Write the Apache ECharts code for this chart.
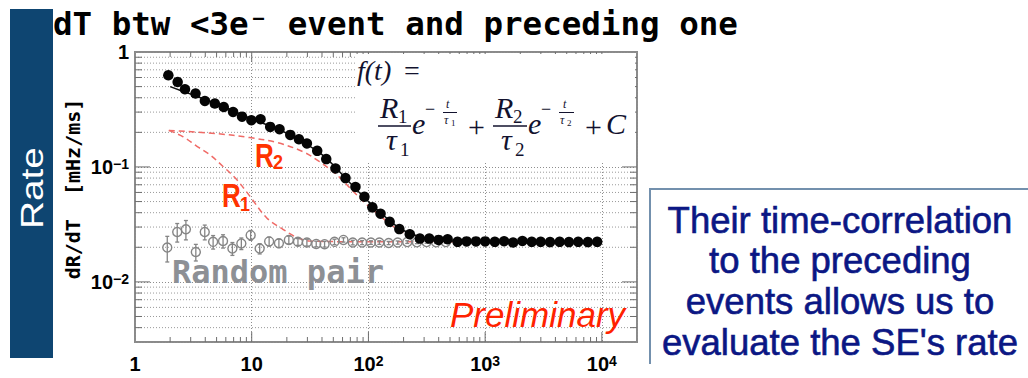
<!DOCTYPE html>
<html>
<head>
<meta charset="utf-8">
<title>dT btw &lt;3e⁻ event and preceding one</title>
<script src="https://cdn.jsdelivr.net/npm/echarts@6/dist/echarts.min.js"></script>
<style>
html, body { margin: 0; padding: 0; background: #ffffff; }
#chart { width: 1028px; height: 378px; }
</style>
</head>
<body>
<div id="chart"></div>
<script>
// ---- data --------------------------------------------------------------
// Time to the preceding event [ms] and rate of <3e- events [mHz/ms]
const dtEvents = [1.93, 2.32, 2.68, 3.30, 3.97, 4.83, 5.76, 6.92, 8.26, 9.93,
  11.9, 14.4, 17.3, 21.4, 25.4, 29.7, 36.4, 43.5, 52.2, 63.6,
  77.4, 92.4, 108, 127, 152, 184, 226, 276, 332, 399,
  477, 580, 693, 834, 1000, 1210, 1453, 1735, 2085, 2506,
  2992, 3597, 4350, 5224, 6272, 7590, 9120];
const rateEvents = [0.627, 0.548, 0.474, 0.435, 0.375, 0.356, 0.332, 0.301, 0.274, 0.255,
  0.260, 0.223, 0.213, 0.190, 0.174, 0.160, 0.138, 0.117, 0.097, 0.080,
  0.067, 0.055, 0.0445, 0.0392, 0.0333, 0.0288, 0.0260, 0.0238, 0.0238, 0.0232,
  0.0235, 0.0223, 0.0225, 0.0225, 0.0225, 0.0223, 0.0226, 0.0220, 0.0227, 0.0223,
  0.0223, 0.0222, 0.0223, 0.0222, 0.0223, 0.0222, 0.0223];

// Random pairs (uncorrelated reference sample) with their errors
const dtRandom = [1.89, 2.30, 2.73, 3.32, 3.96, 4.67, 5.68, 6.83, 8.15, 9.79,
  11.7, 14.1, 17.1, 20.8, 24.9, 29.7, 35.7, 42.1, 51.2, 61.1,
  73.4, 88.3, 105, 124, 149, 178, 215, 260, 315, 380, 460];
const rateRandom = [0.0199, 0.0272, 0.0287, 0.0182, 0.0272, 0.0223, 0.0227, 0.0195, 0.0216, 0.0255,
  0.0195, 0.0225, 0.0217, 0.0232, 0.0223, 0.0220, 0.0214, 0.0213, 0.0223, 0.0232,
  0.0220, 0.0220, 0.0220, 0.0220, 0.0218, 0.0220, 0.0222, 0.0221, 0.0222, 0.0221, 0.0222];
const errRandom = [0.0050, 0.0050, 0.0055, 0.0030, 0.0040, 0.0030, 0.0030, 0.0025, 0.0025, 0.0025,
  0.0020, 0.0020, 0.0018, 0.0018, 0.0015, 0.0015, 0.0012, 0.0012, 0.0012, 0.0010,
  0.0010, 0.0009, 0.0008, 0.0008, 0.0007, 0.0007, 0.0006, 0.0006, 0.0005, 0.0005, 0.0005];

// Fitted f(t) and its two exponential components (each on top of C)
const fitT = [2.0, 3.0, 5.0, 10, 20, 40, 70, 100, 150, 200, 300, 500, 1000, 9000];
const fitRate = [0.50, 0.43, 0.355, 0.262, 0.196, 0.128, 0.072, 0.050, 0.0345, 0.0280, 0.0242, 0.0228, 0.0224, 0.0224];
const r1T = [1.95, 2.59, 3.37, 4.37, 5.62, 7.4, 9.6, 13.4, 18.5, 24.1, 31.3, 60, 200, 1000, 9000];
const r1Rate = [0.208, 0.183, 0.152, 0.128, 0.102, 0.078, 0.056, 0.0362, 0.0287, 0.0245, 0.0227, 0.0224, 0.0224, 0.0224, 0.0224];
const r2T = [1.95, 5.0, 9.6, 16.5, 27.4, 38.1, 53, 73.5, 95.7, 116, 150, 184, 226, 276, 400, 1000, 9000];
const r2Rate = [0.208, 0.195, 0.180, 0.163, 0.136, 0.111, 0.0863, 0.0618, 0.0474, 0.0402, 0.0325, 0.0280, 0.0256, 0.0240, 0.0228, 0.0224, 0.0224];

// Axis decades and their labels
const xDecades = [1, 10, 100, 1000, 10000];
const xTickLabels = ['{b|1}', '{b|10}', '{b|10}{s|2}', '{b|10}{s|3}', '{b|10}{s|4}'];
const yDecades = [0.01, 0.1, 1];
const yTickLabels = ['{b|10}{s|−2}', '{b|10}{s|−1}', '{b|1}'];
const X_MIN = 1, X_MAX = 20000, Y_MIN = 0.003, Y_MAX = 1;

// ---- helpers -------------------------------------------------------------
const zip = (a, b) => a.map((v, i) => [v, b[i]]);

function minorValues(lo, hi) {
  const out = [];
  for (let e = Math.floor(Math.log10(lo)); e <= Math.ceil(Math.log10(hi)); e++) {
    for (let m = 2; m <= 9; m++) {
      const v = m * Math.pow(10, e);
      if (v > lo * 1.0001 && v < hi * 0.9999) out.push(v);
    }
  }
  return out;
}

function decadeLabel(decades, labels) {
  return function (v) {
    for (let i = 0; i < decades.length; i++) {
      if (Math.abs(Math.log10(v) - Math.log10(decades[i])) < 1e-6) return labels[i];
    }
    return '';
  };
}

// kind 0: minor y (dotted line + short ticks), 1: major y ticks,
// kind 2: minor x ticks, 3: major x ticks
const guideData = [];
minorValues(Y_MIN, Y_MAX).forEach(v => guideData.push([X_MIN, v, 0]));
yDecades.filter(v => v > Y_MIN && v < Y_MAX).forEach(v => guideData.push([X_MIN, v, 1]));
minorValues(X_MIN, X_MAX).forEach(v => guideData.push([v, Y_MIN, 2]));
xDecades.filter(v => v > X_MIN && v < X_MAX).forEach(v => guideData.push([v, Y_MIN, 3]));

function renderGuides(params, api) {
  const kind = api.value(2);
  const lo = api.coord([X_MIN, Y_MIN]);
  const hi = api.coord([X_MAX, Y_MAX]);
  const left = lo[0], bottom = lo[1], right = hi[0], top = hi[1];
  const tick = { stroke: '#6e6e6e', lineWidth: 1 };
  const children = [];
  if (kind <= 1) {
    const py = api.coord([X_MIN, api.value(1)])[1];
    const len = kind === 1 ? 15 : 7;
    if (kind === 0) {
      children.push({ type: 'line', shape: { x1: left, y1: py, x2: right, y2: py },
        style: { stroke: '#9a9a9a', lineWidth: 1, lineDash: [1, 2] } });
    }
    children.push({ type: 'line', shape: { x1: left, y1: py, x2: left + len, y2: py }, style: tick });
    children.push({ type: 'line', shape: { x1: right - len, y1: py, x2: right, y2: py }, style: tick });
  } else {
    const px = api.coord([api.value(0), Y_MIN])[0];
    const len = kind === 3 ? 10 : 5;
    children.push({ type: 'line', shape: { x1: px, y1: bottom, x2: px, y2: bottom - len }, style: tick });
    children.push({ type: 'line', shape: { x1: px, y1: top, x2: px, y2: top + len }, style: tick });
  }
  return { type: 'group', children };
}

function renderErrors(params, api) {
  const x = api.value(0);
  const p1 = api.coord([x, api.value(1)]);
  const p2 = api.coord([x, api.value(2)]);
  const st = { stroke: '#858585', lineWidth: 1.3 };
  return { type: 'group', children: [
    { type: 'line', shape: { x1: p1[0], y1: p1[1], x2: p2[0], y2: p2[1] }, style: st },
    { type: 'line', shape: { x1: p1[0] - 2, y1: p1[1], x2: p1[0] + 2, y2: p1[1] }, style: st },
    { type: 'line', shape: { x1: p2[0] - 2, y1: p2[1], x2: p2[0] + 2, y2: p2[1] }, style: st }
  ] };
}

const SANS = '"Liberation Sans", Arial, sans-serif';
const SERIF = '"Liberation Serif", "Times New Roman", serif';
const MONO = '"DejaVu Sans Mono", monospace';

// text placed by its baseline
function txt(text, x, baseline, size, style, extra) {
  return Object.assign({
    type: 'text', x: x, y: baseline - 0.345 * size, z: 60,
    style: Object.assign({ text: text, fontSize: size, fontFamily: SANS, fill: '#000',
      align: 'left', verticalAlign: 'middle' }, style || {})
  }, extra || {});
}
function mathIt(text, x, baseline, size) {
  return txt(text, x, baseline, size, { fontFamily: SERIF, fontStyle: 'italic', fill: '#12122e' });
}
function mathUp(text, x, baseline, size) {
  return txt(text, x, baseline, size, { fontFamily: SERIF, fill: '#12122e' });
}
function bar(x1, x2, y, w) {
  return { type: 'line', z: 60, shape: { x1: x1, y1: y, x2: x2, y2: y },
    style: { stroke: '#12122e', lineWidth: w || 1.5 } };
}

const tickRich = {
  b: { fontFamily: SANS, fontWeight: 'bold', fontSize: 20, lineHeight: 20, color: '#000' },
  s: { fontFamily: SANS, fontWeight: 'bold', fontSize: 14, lineHeight: 14, verticalAlign: 'top', color: '#000' }
};

const red = '#ff3300';
const graphics = [
  // left banner
  { type: 'rect', z: 60, shape: { x: 10, y: 9, width: 43, height: 349 }, style: { fill: '#0e4571' } },
  { type: 'text', z: 61, x: 32, y: 188, rotation: Math.PI / 2, scaleX: 1.25,
    style: { text: 'Rate', fontFamily: SANS, fontSize: 31, fill: '#ffffff', align: 'center', verticalAlign: 'middle' } },
  // title
  txt('dT btw <3e⁻ event and preceding one', 53, 35, 32.5, { fontFamily: MONO, fontWeight: 'bold' }),
  // y axis title
  { type: 'text', z: 60, x: 73, y: 189, rotation: Math.PI / 2,
    style: { text: 'dR/dT  [mHz/ms]', fontFamily: MONO, fontWeight: 'bold', fontSize: 20, fill: '#000',
      align: 'center', verticalAlign: 'middle' } },
  // formula box
  { type: 'rect', z: 55, shape: { x: 356, y: 54, width: 279, height: 108 }, style: { fill: '#ffffff' } },
  mathIt('f(t)', 357, 80, 28), mathUp('=', 404, 80, 28),
  mathIt('R', 380, 118, 30), mathUp('1', 398, 123, 19), bar(378, 411, 126),
  mathIt('τ', 386, 150, 30), mathUp('1', 400, 156, 19),
  mathIt('e', 412, 134, 30),
  mathUp('−', 425, 115.5, 18), mathIt('t', 446, 108.5, 12), bar(443, 457, 112.5, 1),
  mathIt('τ', 444, 124, 12), mathUp('1', 451, 126, 9),
  mathUp('+', 468, 137, 30),
  mathIt('R', 495, 118, 30), mathUp('2', 513, 123, 19), bar(493, 527, 126),
  mathIt('τ', 501, 150, 30), mathUp('2', 515, 156, 19),
  mathIt('e', 528, 134, 30),
  mathUp('−', 541, 115.5, 18), mathIt('t', 563, 108.5, 12), bar(559, 574, 112.5, 1),
  mathIt('τ', 560, 124, 12), mathUp('2', 567, 126, 9),
  mathUp('+', 585, 137, 30),
  mathIt('C', 606, 134, 30),
  // component labels
  { type: 'text', z: 60, x: 255, y: 155.5, scaleY: 1.3,
    style: { text: 'R', fontFamily: SANS, fontWeight: 'bold', fontSize: 26, fill: red, verticalAlign: 'middle' } },
  { type: 'text', z: 60, x: 273, y: 162, scaleY: 1.1,
    style: { text: '2', fontFamily: SANS, fontWeight: 'bold', fontSize: 18, fill: red, verticalAlign: 'middle' } },
  { type: 'text', z: 60, x: 222, y: 195.5, scaleY: 1.3,
    style: { text: 'R', fontFamily: SANS, fontWeight: 'bold', fontSize: 26, fill: red, verticalAlign: 'middle' } },
  { type: 'text', z: 60, x: 240, y: 204, scaleY: 1.1,
    style: { text: '1', fontFamily: SANS, fontWeight: 'bold', fontSize: 18, fill: red, verticalAlign: 'middle' } },
  txt('Random pair', 172, 283, 32, { fontFamily: MONO, fontWeight: 'bold', fill: '#8d9095' }),
  txt('Preliminary', 450, 327, 35, { fontStyle: 'italic', fill: '#ff2200' }),
  // comment box on the right
  { type: 'polyline', z: 60, shape: { points: [[650, 364], [650, 189], [1030, 189]] },
    style: { stroke: '#7390ad', lineWidth: 2, fill: null } },
  txt('Their time-correlation', 840, 233, 36.5, { align: 'center', fill: '#0b1784', stroke: '#0b1784', lineWidth: 0.6 }),
  txt('to the preceding', 840, 273, 36.5, { align: 'center', fill: '#0b1784', stroke: '#0b1784', lineWidth: 0.6 }),
  txt('events allows us to', 840, 314, 36.5, { align: 'center', fill: '#0b1784', stroke: '#0b1784', lineWidth: 0.6 }),
  txt('evaluate the SE\'s rate', 840, 355, 36.5, { align: 'center', fill: '#0b1784', stroke: '#0b1784', lineWidth: 0.6 })
];

const chart = echarts.init(document.getElementById('chart'), null, { renderer: 'svg', width: 1028, height: 378 });

chart.setOption({
  animation: false,
  backgroundColor: '#ffffff',
  tooltip: { show: false },
  grid: {
    left: 135, top: 52, width: 502, height: 290,
    show: true, borderColor: '#8a8a8a', borderWidth: 2, backgroundColor: '#ffffff',
    containLabel: false, outerBoundsMode: 'none'
  },
  xAxis: {
    type: 'log', logBase: 10, min: X_MIN, max: X_MAX,
    axisLine: { show: false }, axisTick: { show: false },
    splitLine: { show: true, lineStyle: { color: '#8e8e8e', width: 1, type: [1, 2] } },
    axisLabel: { formatter: decadeLabel(xDecades, xTickLabels), margin: 12, rich: tickRich,
      showMinLabel: true, showMaxLabel: true, hideOverlap: false }
  },
  yAxis: {
    type: 'log', logBase: 10, min: Y_MIN, max: Y_MAX,
    axisLine: { show: false }, axisTick: { show: false },
    splitLine: { show: true, lineStyle: { color: '#8e8e8e', width: 1, type: [1, 2] } },
    axisLabel: { formatter: decadeLabel(yDecades, yTickLabels), margin: 6, rich: tickRich,
      showMinLabel: true, showMaxLabel: true, hideOverlap: false }
  },
  series: [
    { type: 'custom', name: 'guides', renderItem: renderGuides, data: guideData,
      encode: { x: 0, y: 1 }, silent: true, z: 1 },
    { type: 'line', name: 'R1', data: zip(r1T, r1Rate), smooth: 0.35, symbol: 'none', silent: true,
      lineStyle: { color: '#f06a66', width: 1.5, type: [6, 4] }, z: 2 },
    { type: 'line', name: 'R2', data: zip(r2T, r2Rate), smooth: 0.35, symbol: 'none', silent: true,
      lineStyle: { color: '#f06a66', width: 1.5, type: [6, 4] }, z: 2 },
    { type: 'line', name: 'f(t)', data: zip(fitT, fitRate), smooth: 0.35, symbol: 'none', silent: true,
      lineStyle: { color: '#111111', width: 1.5 }, z: 3 },
    { type: 'custom', name: 'Random pair errors', renderItem: renderErrors, silent: true,
      data: dtRandom.map((t, i) => [t, rateRandom[i] - errRandom[i], rateRandom[i] + errRandom[i]]),
      encode: { x: 0, y: [1, 2] }, z: 4 },
    { type: 'scatter', name: 'Random pair', data: zip(dtRandom, rateRandom), symbol: 'circle', symbolSize: 9,
      silent: true, itemStyle: { color: 'rgba(255,255,255,0)', borderColor: '#858585', borderWidth: 1.4, opacity: 1 }, z: 5 },
    { type: 'scatter', name: 'events', data: zip(dtEvents, rateEvents), symbol: 'circle', symbolSize: 10.5,
      silent: true, itemStyle: { color: '#050505', opacity: 1 }, z: 6 }
  ],
  graphic: { elements: graphics }
});
</script>
</body>
</html>
